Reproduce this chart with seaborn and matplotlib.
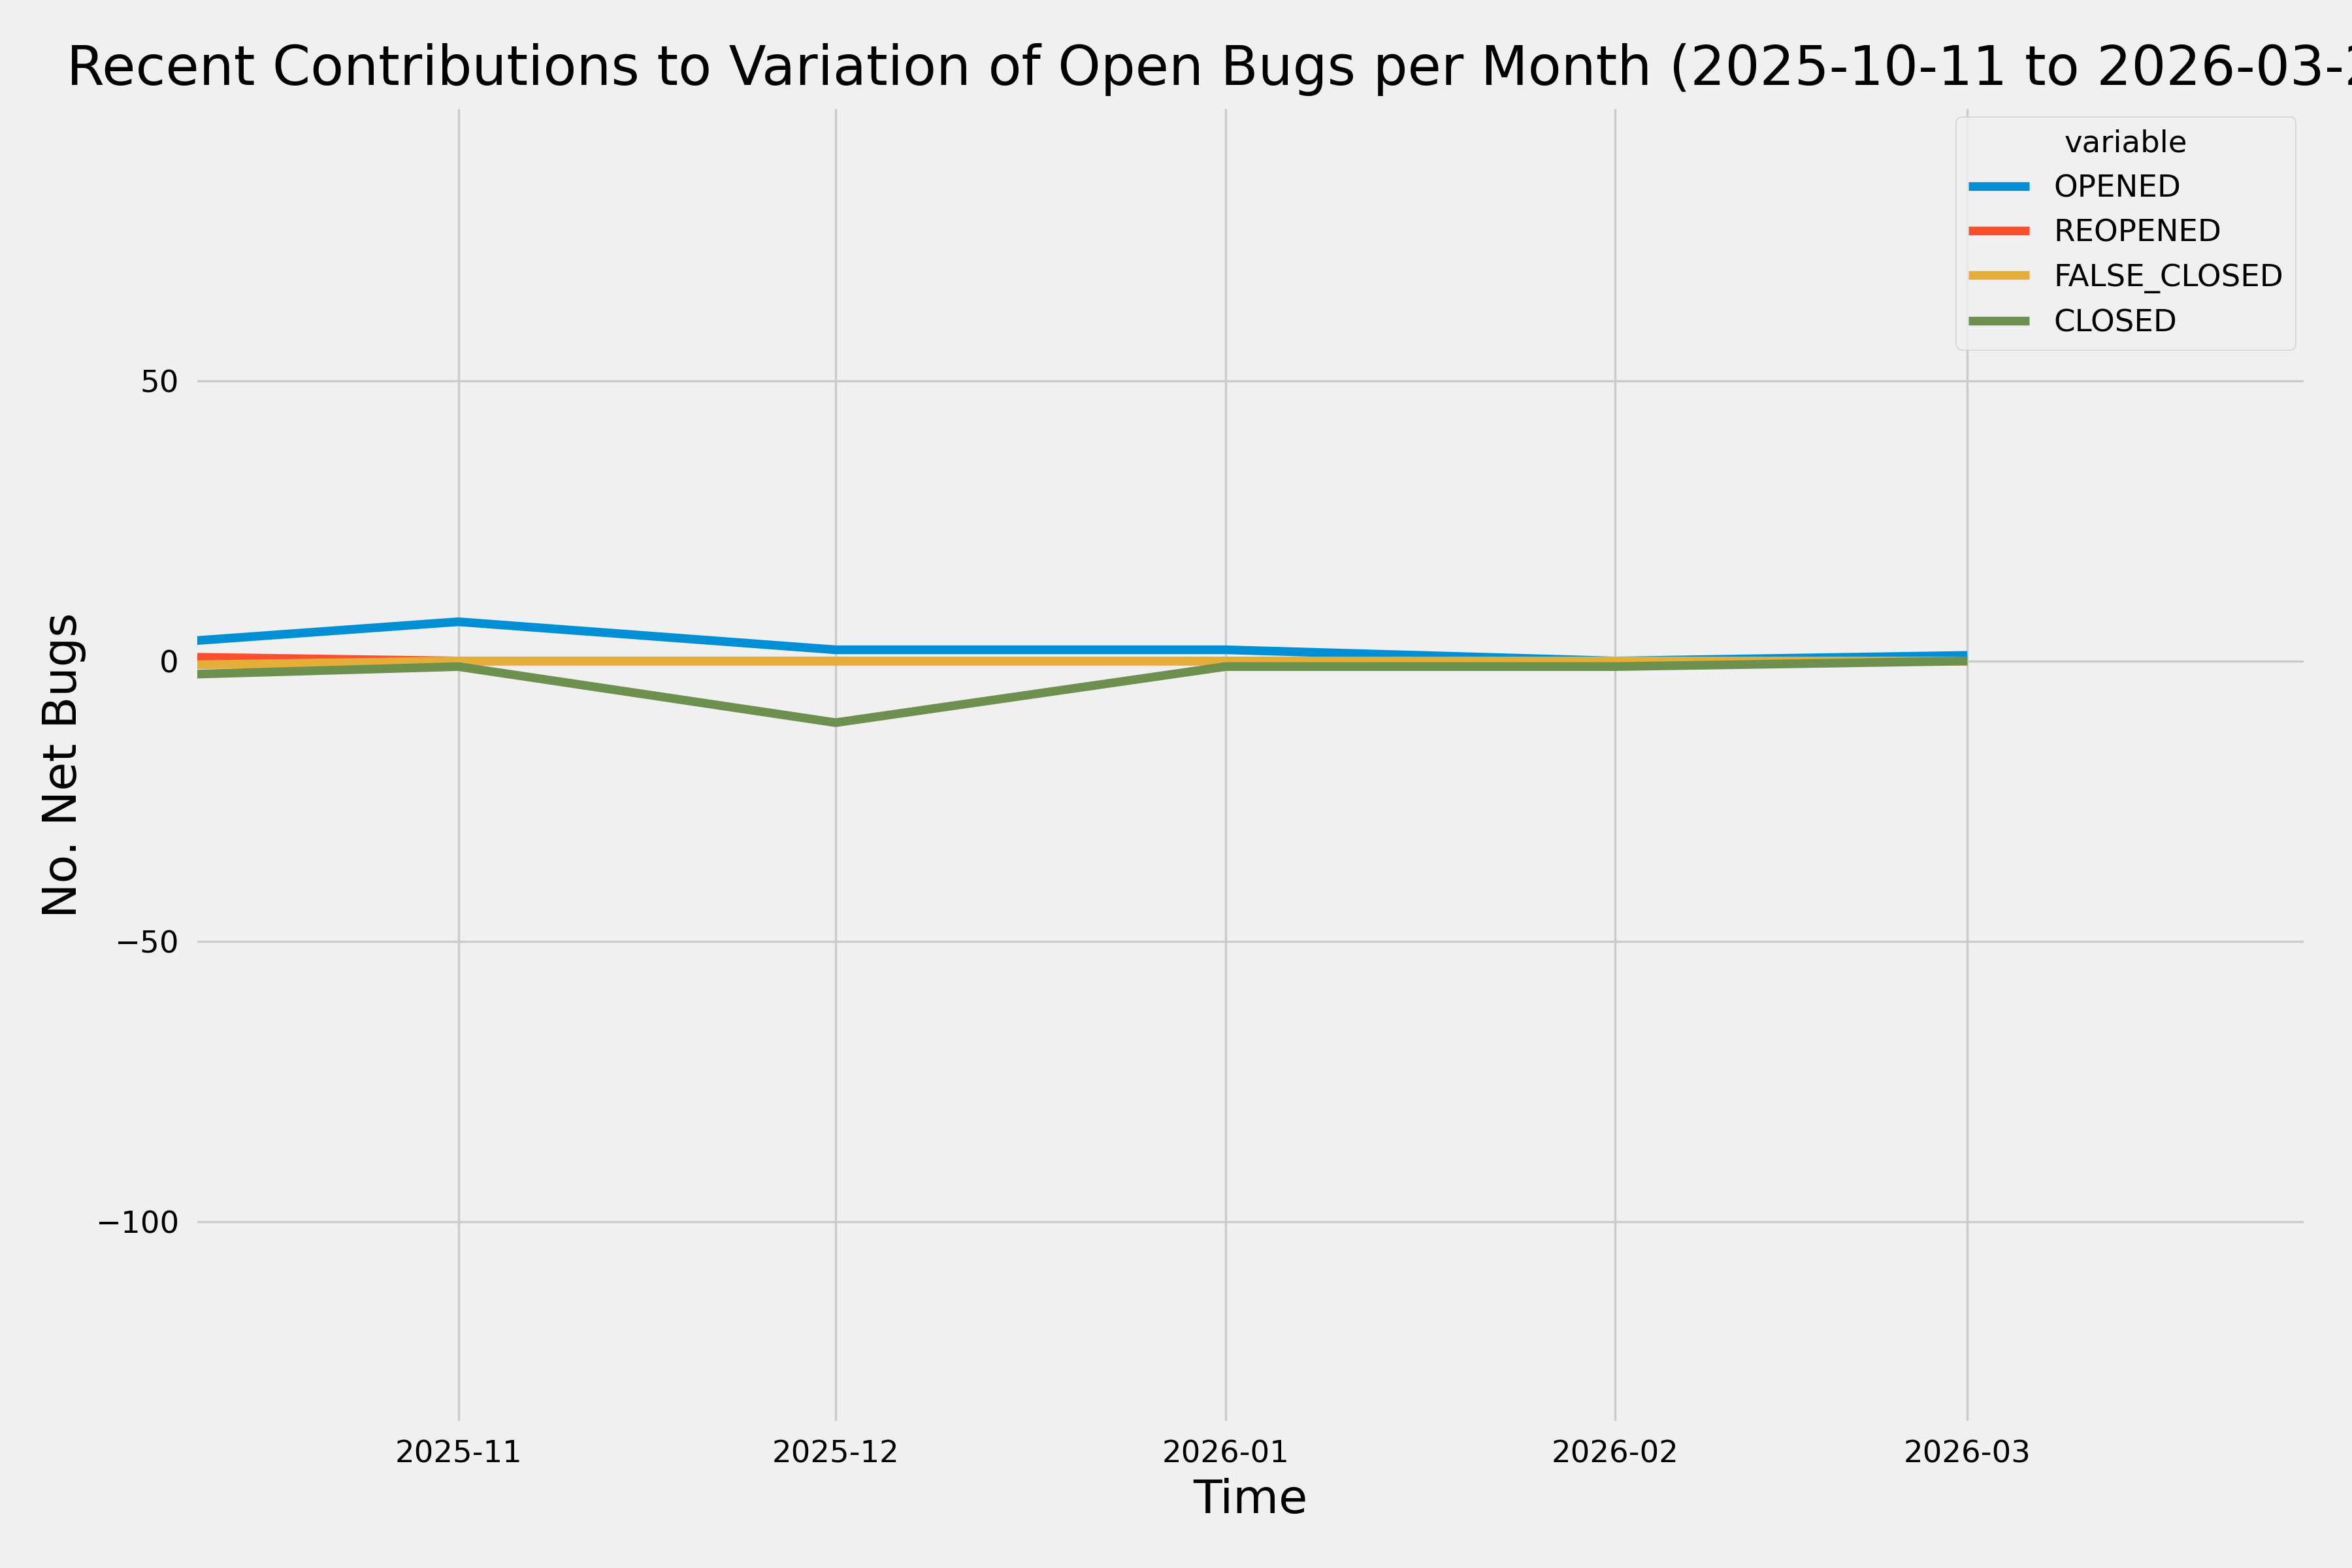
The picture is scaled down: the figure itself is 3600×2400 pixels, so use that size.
import numpy as np
import pandas as pd
import matplotlib.pyplot as plt
import seaborn as sns

# data: monthly net contributions
months = ['2025-10-01', '2025-11-01', '2025-12-01', '2026-01-01', '2026-02-01', '2026-03-01']
opened = [2, 7, 2, 2, 0, 1]
reopened = [1, 0, 0, 0, 0, 0]
false_closed = [-1, 0, 0, 0, 0, 0]
closed = [-3, -1, -11, -1, -1, 0]

start_date = '2025-10-11'
end_date = '2026-03-28'

plt.style.use('fivethirtyeight')

df = pd.DataFrame({
    'Time': pd.to_datetime(months),
    'OPENED': opened,
    'REOPENED': reopened,
    'FALSE_CLOSED': false_closed,
    'CLOSED': closed,
})
long_df = df.melt(id_vars='Time', value_vars=['OPENED', 'REOPENED', 'FALSE_CLOSED', 'CLOSED'])

fig, ax = plt.subplots(figsize=(15, 10), dpi=240)
sns.lineplot(data=long_df, x='Time', y='value', hue='variable', ax=ax)

ax.set_xlim(pd.Timestamp(start_date), pd.Timestamp(end_date))
ax.set_ylim(-136.2, 99)
ax.set_title(f'Recent Contributions to Variation of Open Bugs per Month ({start_date} to {end_date})',
             fontsize=25, pad=9.6)
ax.set_xlabel('Time', fontsize=21.5)
ax.set_ylabel('No. Net Bugs', fontsize=21.5)
ax.tick_params(axis='both', labelsize=14, pad=7)
ax.legend(title='variable', loc='upper right', fontsize=14, title_fontsize=14,
          borderaxespad=0.36)

fig.subplots_adjust(left=0.0826, right=0.9808, bottom=0.0915, top=0.9324)
plt.savefig('out.png')
plt.close()
